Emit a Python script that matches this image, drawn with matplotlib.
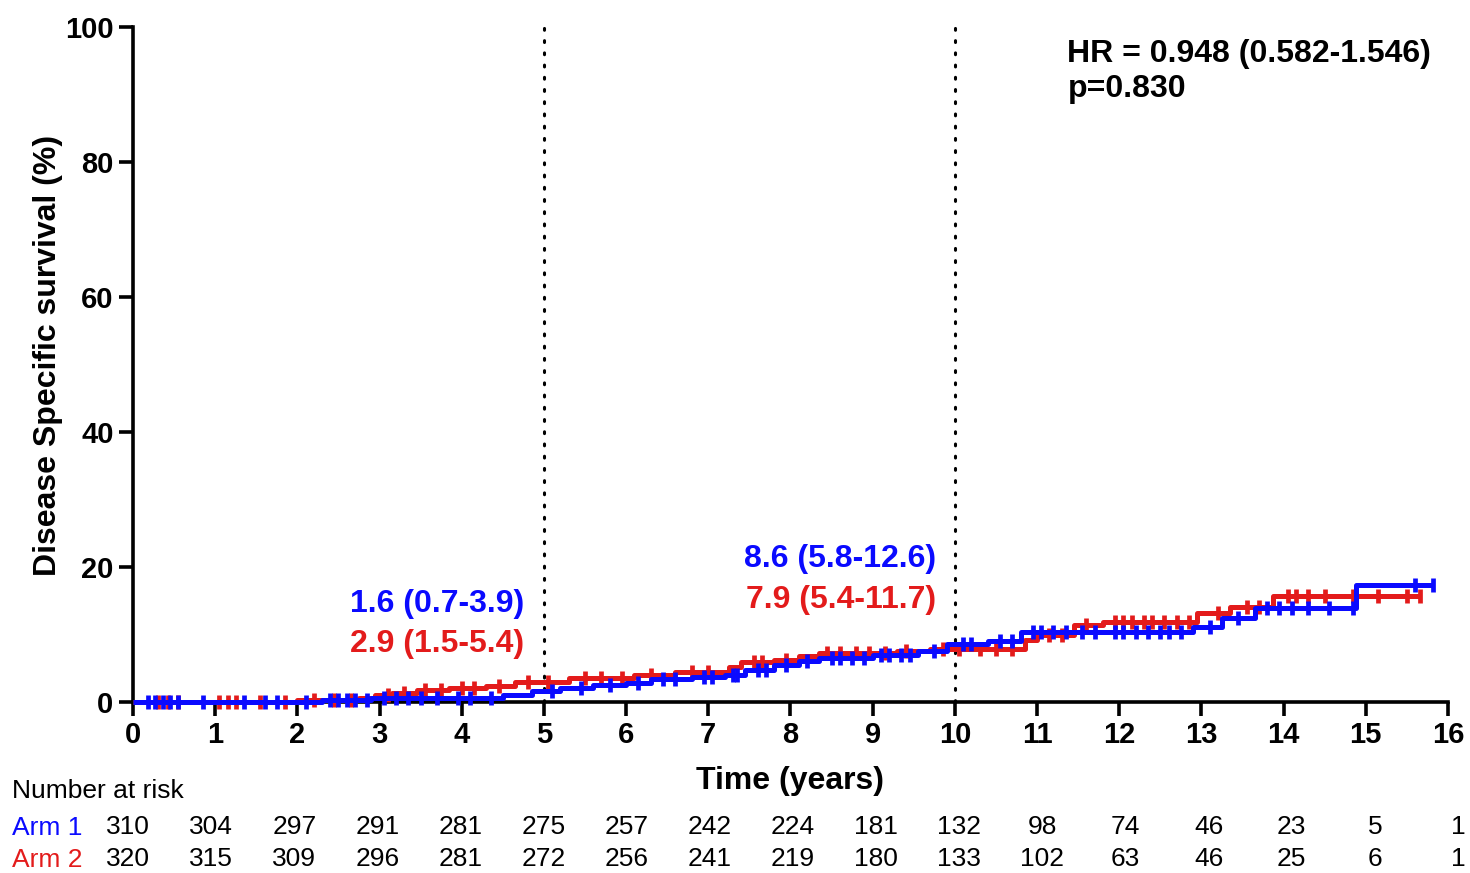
import numpy as np
import matplotlib.pyplot as plt

plt.rcParams['font.family'] = ['Liberation Sans', 'DejaVu Sans']

# Cumulative disease specific events (%), step functions
arm1_t = [0, 2.3, 2.9, 4.5, 4.85, 5.2, 5.6, 6.0, 6.3, 6.8, 7.2, 7.45, 7.8, 8.1, 8.35,
          9.0, 9.55, 9.9, 10.4, 10.8, 12.9, 13.25, 13.65, 14.88]
arm1_y = [0, 0.3, 0.6, 1.0, 1.6, 2.1, 2.5, 2.8, 3.4, 3.7, 4.0, 4.7, 5.5, 6.0, 6.5,
          6.9, 7.6, 8.6, 9.0, 10.3, 11.1, 12.4, 13.9, 17.3]
arm1_end = 15.82

arm2_t = [0, 2.0, 2.75, 2.95, 3.15, 3.45, 3.85, 4.3, 4.65, 5.3, 6.1, 6.6, 7.25, 7.4,
          7.8, 8.1, 8.35, 9.3, 9.7, 10.85, 11.0, 11.45, 11.8, 12.95, 13.35, 13.87]
arm2_y = [0, 0.3, 0.6, 1.0, 1.3, 1.7, 2.0, 2.3, 2.9, 3.5, 4.0, 4.5, 5.2, 5.9,
          6.2, 6.8, 7.3, 7.6, 7.9, 9.2, 9.9, 11.4, 11.9, 13.2, 14.1, 15.7]
arm2_end = 15.66

# censored observations
arm1_cens = [0.18, 0.27, 0.36, 0.45, 0.55, 0.85, 1.35, 1.6, 1.75, 2.1, 2.4, 2.5, 2.6,
             2.7, 2.85, 3.05, 3.2, 3.35, 3.5, 3.7, 3.95, 4.1, 4.35, 5.1, 5.45, 5.8,
             6.15, 6.45, 6.6, 6.95, 7.05, 7.3, 7.35, 7.6, 7.7, 7.95, 8.2, 8.5, 8.6,
             8.75, 8.9, 9.1, 9.2, 9.35, 9.45, 9.75, 10.1, 10.2, 10.55, 10.7, 10.95,
             11.05, 11.2, 11.35, 11.55, 11.7, 11.95, 12.05, 12.2, 12.35, 12.5, 12.6,
             12.75, 13.1, 13.45, 13.8, 13.95, 14.1, 14.3, 14.55, 14.85, 15.6, 15.82]
arm2_cens = [0.3, 0.42, 0.55, 1.05, 1.15, 1.25, 1.55, 1.85, 2.2, 2.45, 2.65, 3.1, 3.3,
             3.55, 3.75, 4.0, 4.15, 4.45, 4.8, 5.05, 5.5, 5.7, 5.95, 6.3, 6.8, 7.0,
             7.55, 7.65, 7.95, 8.45, 8.6, 8.8, 8.95, 9.15, 9.4, 9.85, 10.05, 10.3,
             10.5, 10.7, 11.15, 11.3, 11.6, 11.95, 12.05, 12.15, 12.3, 12.4, 12.55,
             12.7, 12.85, 13.2, 13.55, 13.7, 14.05, 14.15, 14.3, 14.5, 14.85, 15.15,
             15.5, 15.66]

risk_years = list(range(17))
risk_arm1 = [310, 304, 297, 291, 281, 275, 257, 242, 224, 181, 132, 98, 74, 46, 23, 5, 1]
risk_arm2 = [320, 315, 309, 296, 281, 272, 256, 241, 219, 180, 133, 102, 63, 46, 25, 6, 1]

blue = '#0a0aff'
red = '#e31b1b'

fig = plt.figure(figsize=(14.7, 8.73), dpi=100)
ax = fig.add_axes([0.0905, 0.196, 0.8945, 0.773])


def draw_arm(t, y, end, cens, color):
    tt = np.append(t, end)
    yy = np.append(y, y[-1])
    ax.step(tt, yy, where='post', color=color, lw=3.6, clip_on=False, zorder=3,
            solid_capstyle='butt')
    idx = np.searchsorted(t, cens, side='right') - 1
    ax.plot(cens, np.array(y)[idx], linestyle='none', marker='|', markersize=10,
            markeredgewidth=3.4, color=color, clip_on=False, zorder=3)


draw_arm(arm2_t, arm2_y, arm2_end, arm2_cens, red)
draw_arm(arm1_t, arm1_y, arm1_end, arm1_cens, blue)

for xv in (5, 10):
    ax.plot([xv, xv], [0, 100], color='black', lw=2.2, linestyle=(0, (0.6, 3.4)),
            dash_capstyle='round', zorder=1, clip_on=False)

ax.set_xlim(0, 16)
ax.set_ylim(0, 100)
ax.set_xticks(range(0, 17))
ax.set_yticks(range(0, 101, 20))
for s in ('top', 'right'):
    ax.spines[s].set_visible(False)
for s in ('left', 'bottom'):
    ax.spines[s].set_linewidth(2.6)
ax.tick_params(width=2.6, length=10, labelsize=21, pad=4)
for lab in ax.get_xticklabels() + ax.get_yticklabels():
    lab.set_fontweight('bold')

ax.set_ylabel('Disease Specific survival (%)', fontsize=23, fontweight='bold')
ax.yaxis.set_label_coords(-0.053, 0.514)
ax.set_xlabel('Time (years)', fontsize=23, fontweight='bold', labelpad=12)

# 5- and 10-year estimates
ax.text(4.76, 14.5, '1.6 (0.7-3.9)', color=blue, fontsize=23, fontweight='bold',
        ha='right', va='center')
ax.text(4.76, 8.6, '2.9 (1.5-5.4)', color=red, fontsize=23, fontweight='bold',
        ha='right', va='center')
ax.text(9.77, 21.2, '8.6 (5.8-12.6)', color=blue, fontsize=23, fontweight='bold',
        ha='right', va='center')
ax.text(9.77, 15.1, '7.9 (5.4-11.7)', color=red, fontsize=23, fontweight='bold',
        ha='right', va='center')

ax.text(11.37, 98.2, 'HR = 0.948 (0.582-1.546)\np=0.830', fontsize=23,
        fontweight='bold', ha='left', va='top', linespacing=1.2)

# number at risk table
fig.text(12 / 1470, 1 - 791 / 873, 'Number at risk', fontsize=19, va='center',
         ha='left')
fig.text(12 / 1470, 1 - 828 / 873, 'Arm 1', fontsize=19, va='center', ha='left',
         color=blue)
fig.text(12 / 1470, 1 - 860 / 873, 'Arm 2', fontsize=19, va='center', ha='left',
         color=red)
for yr, n1, n2 in zip(risk_years, risk_arm1, risk_arm2):
    xf = (128 + yr * 1330 / 16) / 1470
    fig.text(xf, 1 - 827 / 873, str(n1), fontsize=19, ha='center', va='center')
    fig.text(xf, 1 - 859 / 873, str(n2), fontsize=19, ha='center', va='center')

fig.savefig('out.png', dpi=100)
